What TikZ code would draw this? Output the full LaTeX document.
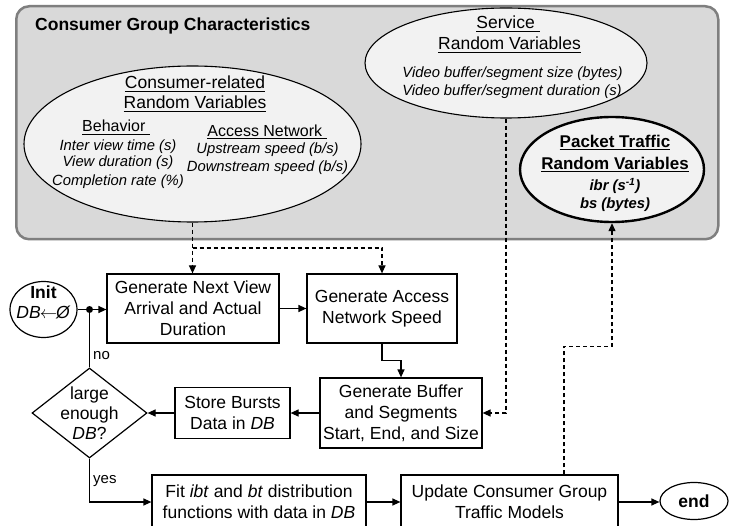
\documentclass[tikz,border=0pt]{standalone}
\usepackage{fontspec}
\setmainfont{Liberation Sans}
\usetikzlibrary{arrows.meta,shapes.geometric}
\definecolor{outerfill}{RGB}{217,217,217}
\definecolor{outerdraw}{RGB}{127,127,127}
\definecolor{ellfill}{RGB}{242,242,242}
\newcommand\myunderline[1]{\setbox0\hbox{#1}\rlap{\copy0}\rule[-0.17em]{\wd0}{0.07em}}
\begin{document}
\begin{tikzpicture}[x=1pt,y=-1pt,
  proc/.style={draw, line width=1.2pt, rectangle, inner sep=0pt, align=center, font=\fontsize{17.5}{21}\selectfont},
  ell/.style={draw, ellipse, line width=1.1pt, fill=ellfill, inner sep=0pt},
  lbl/.style={inner sep=0pt, anchor=base},
  head/.style={lbl, font=\fontsize{17.5}{21}\selectfont},
  subhead/.style={lbl, font=\fontsize{16}{19}\selectfont},
  ital/.style={lbl, font=\fontsize{14.8}{17}\selectfont\itshape},
  arr/.style={line width=1.2pt, -{Triangle[length=8pt,width=7pt]}},
  darr/.style={line width=1.2pt, dash pattern=on 4pt off 3pt, -{Triangle[length=8pt,width=7pt]}},
  plain/.style={line width=1.2pt},
]
\useasboundingbox (0,0) rectangle (730,526);
\clip (0,0) rectangle (730,526);
\fill[white] (0,0) rectangle (730,526);

% group box
\node[draw=outerdraw, fill=outerfill, line width=2.5pt, rounded corners=13pt,
      minimum width=702pt, minimum height=233pt, inner sep=0pt, anchor=north west] (grp) at (15,5) {};
\node[lbl, anchor=base west, font=\bfseries\fontsize{17.5}{21}\selectfont] (title) at (35,31) {Consumer Group Characteristics};

% consumer ellipse
\node[ell, minimum width=337pt, minimum height=156pt] (cons) at (192.5,144) {};
\node[head] (c1) at (195,89) {\myunderline{Consumer-related}};
\node[head] (c2) at (195,109) {\myunderline{Random Variables}};
\node[subhead] (bh) at (116,132) {\myunderline{Behavior\ }};
\node[ital] (bh1) at (118,151) {Inter view time (s)};
\node[ital] (bh2) at (118,167) {View duration (s)};
\node[ital] (bh3) at (118,186) {Completion rate (\%)};
\node[subhead] (an) at (267,136.5) {\myunderline{Access Network\ }};
\node[ital] (an1) at (267.5,154) {Upstream speed (b/s)};
\node[ital] (an2) at (267.5,172) {Downstream speed (b/s)};

% service ellipse
\node[ell, minimum width=282pt, minimum height=110pt] (serv) at (506,63) {};
\node[head] (s1) at (508,29) {\myunderline{Service\ }};
\node[head] (s2) at (509.5,50) {\myunderline{Random Variables}};
\node[ital] (s3) at (512.5,78) {Video buffer/segment size (bytes)};
\node[ital] (s4) at (512,96) {Video buffer/segment duration (s)};

% packet ellipse
\node[draw, ellipse, line width=2.4pt, fill=ellfill, inner sep=0pt, minimum width=184pt, minimum height=105pt] (pk) at (612,169.5) {};
\node[lbl, font=\bfseries\fontsize{17}{20}\selectfont] (p1) at (615,147.5) {\myunderline{Packet Traffic}};
\node[lbl, font=\bfseries\fontsize{17}{20}\selectfont] (p2) at (615,169.5) {\myunderline{Random Variables}};
\node[lbl, font=\bfseries\itshape\fontsize{14.8}{17}\selectfont] (p3) at (615,191) {ibr (s\textsuperscript{-1})};
\node[lbl, font=\bfseries\itshape\fontsize{14.8}{17}\selectfont] (p4) at (615,209) {bs (bytes)};

% flow chart
\node[draw, ellipse, line width=1.2pt, fill=white, inner sep=0pt, minimum width=67pt, minimum height=56pt] (init) at (43.5,309.5) {};
\node[inner sep=0pt, align=center, font=\fontsize{17.5}{20}\selectfont] (initt) at (43.5,302) {\textbf{Init}\\\textit{DB}\kern-1pt$\leftarrow$\kern-1pt\textit{Ø}};
\coordinate (j) at (89.5,309.5);

\node[proc, minimum width=172pt, minimum height=69pt] (b1) at (193,308.5) {Generate Next View\\Arrival and Actual\\Duration};
\node[proc, minimum width=150pt, minimum height=69pt] (b2) at (382,308.5) {Generate Access\\Network Speed};
\node[proc, minimum width=162pt, minimum height=70pt] (b3) at (401,413) {Generate Buffer\\and Segments\\Start, End, and Size};
\node[proc, minimum width=115pt, minimum height=51pt] (st) at (232.5,413) {Store Bursts\\Data in \textit{DB}};
\node[draw, diamond, line width=1.2pt, minimum width=115pt, minimum height=90pt, inner sep=0pt] (dia) at (89.5,413) {};
\node[inner sep=0pt, align=center, font=\fontsize{17.5}{20}\selectfont] (diat) at (89.5,413) {large\\enough\\\textit{DB}?};
\node[proc, minimum width=214pt, minimum height=54pt] (fit) at (259,502) {Fit \textit{ibt} and \textit{bt} distribution\\functions with data in \textit{DB}};
\node[proc, minimum width=217pt, minimum height=54pt] (upd) at (509.5,502) {Update Consumer Group\\Traffic Models};
\node[draw, ellipse, line width=1.2pt, inner sep=0pt, minimum width=68pt, minimum height=37pt, font=\bfseries\fontsize{17.5}{21}\selectfont] (end) at (694,501) {end};

\node[anchor=west, inner sep=0pt, font=\fontsize{15}{18}\selectfont] (no) at (93,356) {no};
\node[anchor=west, inner sep=0pt, font=\fontsize{15}{18}\selectfont] (yes) at (93,481) {yes};

% solid connectors
\draw[plain] (init.east) -- (j);
\fill (j) circle (3.5pt);
\draw[arr] (j) -- (j -| b1.west);
\draw[arr] (b1.east) -- (b2.west);
\draw[arr] (b2.south) -- ++(0,17) -| (b3.north);
\draw[arr] (b3.west) -- (st.east);
\draw[arr] (st.west) -- (dia.east);
\draw[plain] (dia.north) -- (j);
\draw[arr] (dia.south) |- (fit.west);
\draw[arr] (fit.east) -- (upd.west);
\draw[arr] (upd.east) -- (upd.east -| end.west);

% dashed connectors
\coordinate (dj) at (192.5,248);
\draw[darr] (cons.south) -- (cons.south |- b1.north);
\draw[darr] (dj) -| (b2.north);
\draw[darr] (serv.south) |- (b3.east);
\draw[darr] ([xshift=54.5pt]upd.north) -- ++(0,-128) -| (pk.south);
\end{tikzpicture}
\end{document}
